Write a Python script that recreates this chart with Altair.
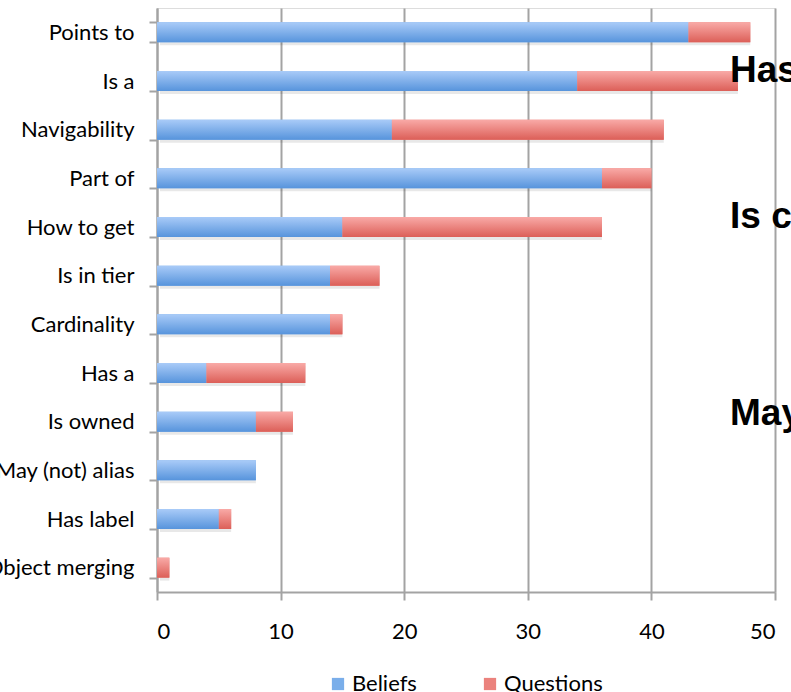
import altair as alt
import pandas as pd

# Relation categories, top to bottom
categories = [
    "Points to", "Is a", "Navigability", "Part of", "How to get", "Is in tier",
    "Cardinality", "Has a", "Is owned", "May (not) alias", "Has label", "Object merging",
]
beliefs = [43, 34, 19, 36, 15, 14, 14, 4, 8, 8, 5, 0]
questions = [5, 13, 22, 4, 21, 4, 1, 8, 3, 0, 1, 1]
series = ["Beliefs", "Questions"]
x_ticks = [0, 10, 20, 30, 40, 50]
overlay_words = ["Has", "Is c", "May"]

rows = []
for cat, b, q in zip(categories, beliefs, questions):
    rows.append({"category": cat, "series": "Beliefs", "start": 0, "end": b})
    rows.append({"category": cat, "series": "Questions", "start": b, "end": b + q})
df = pd.DataFrame(rows)
totals = pd.DataFrame({"category": categories,
                       "total": [b + q for b, q in zip(beliefs, questions)]})

FONT = "Lato"
GREY = "#a3a3a3"

y_enc = alt.Y(
    "category:N", sort=categories,
    scale=alt.Scale(paddingInner=0.59, paddingOuter=0.295),
    axis=alt.Axis(title=None, grid=False, tickBand="extent", tickSize=8,
                  tickWidth=2, tickColor=GREY, domainColor=GREY, domainWidth=2,
                  labelFont=FONT, labelFontSize=22, labelColor="#000",
                  labelPadding=15),
)
x_scale = alt.Scale(domain=[0, 50], nice=False)
x_axis = alt.Axis(title=None, values=x_ticks, grid=True, gridColor=GREY,
                  gridWidth=2, tickSize=8, tickWidth=2, tickColor=GREY,
                  domainColor=GREY, domainWidth=2, labelFont=FONT,
                  labelFontSize=22, labelColor="#000", labelPadding=21)

blue_grad = alt.LinearGradient(
    gradient="linear", x1=0, y1=0, x2=0, y2=1,
    stops=[alt.GradientStop(offset=0, color="#a9cbf8"),
           alt.GradientStop(offset=1, color="#5794dc")],
)
red_grad = alt.LinearGradient(
    gradient="linear", x1=0, y1=0, x2=0, y2=1,
    stops=[alt.GradientStop(offset=0, color="#f9aaa7"),
           alt.GradientStop(offset=1, color="#dc5f58")],
)

# soft drop shadow behind each bar
shadow = alt.Chart(totals).mark_bar(
    color="#000", opacity=0.09, xOffset=3, yOffset=3
).encode(
    x=alt.X("zero:Q", scale=x_scale, axis=x_axis),
    x2="total:Q",
    y=y_enc,
).transform_calculate(zero="0")

# flat stacked bars carrying the legend
flat = alt.Chart(df).mark_bar().encode(
    x=alt.X("start:Q", scale=x_scale, axis=x_axis),
    x2="end:Q",
    y=y_enc,
    color=alt.Color(
        "series:N",
        scale=alt.Scale(domain=series, range=["#7aaeea", "#eb827d"]),
        legend=alt.Legend(title=None, orient="none", direction="horizontal",
                          legendX=170, legendY=665,
                          symbolType="square", symbolSize=150,
                          symbolStrokeWidth=0, labelFont=FONT,
                          labelFontSize=22, labelColor="#000",
                          labelOffset=3, columnPadding=62),
    ),
)

blue = alt.Chart(df).mark_bar(fill=blue_grad).encode(
    x=alt.X("start:Q", scale=x_scale), x2="end:Q", y=y_enc,
).transform_filter(alt.datum.series == "Beliefs")

red = alt.Chart(df).mark_bar(fill=red_grad).encode(
    x=alt.X("start:Q", scale=x_scale), x2="end:Q", y=y_enc,
).transform_filter(alt.datum.series == "Questions")

# large bold words running off the right edge
words = pd.DataFrame({"word": overlay_words, "ypos": [74, 220, 417]})
overlay = alt.Chart(words).mark_text(
    font="Liberation Sans", fontWeight="bold", fontSize=37,
    align="left", baseline="alphabetic", color="#000",
).encode(
    x=alt.value(573),
    y=alt.Y("ypos:Q", scale=None),
    text="word:N",
)

chart = alt.layer(shadow, flat, blue, red, overlay).properties(
    width=618, height=584,
    padding={"left": 157, "top": 8, "right": 16, "bottom": 100},
    autosize=alt.AutoSizeParams(type="none"),
).configure_view(stroke=None).configure(background="white")

chart.save("out.html", embed_options={"renderer": "svg", "actions": False})
